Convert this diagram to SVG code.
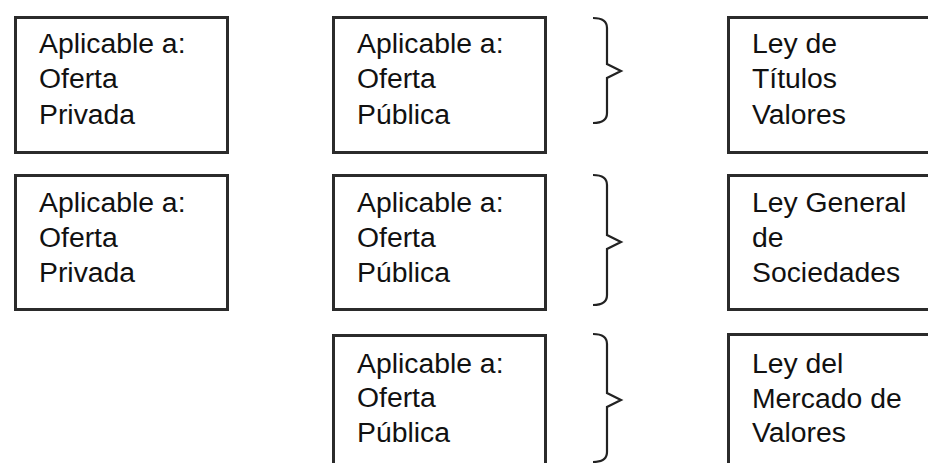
<svg xmlns="http://www.w3.org/2000/svg" width="928" height="463" viewBox="0 0 928 463">
<style>
.box{fill:#fff;stroke:#2b2b2b;stroke-width:3}
.t{font-family:"Liberation Sans",Arial,sans-serif;font-size:27px;fill:#111}
.br{fill:none;stroke:#222;stroke-width:2.2;stroke-linejoin:miter}
</style>
<rect width="928" height="463" fill="#fff"/>
<g id="n1"><rect class="box" x="15.5" y="17.5" width="212" height="135"/>
<text class="t" transform="translate(39,0) scale(1.05,1)"><tspan x="0" y="53">Aplicable a:</tspan><tspan x="0" y="88">Oferta</tspan><tspan x="0" y="124">Privada</tspan></text></g>
<g id="n2"><rect class="box" x="15.5" y="175.5" width="212" height="134"/>
<text class="t" transform="translate(39,0) scale(1.05,1)"><tspan x="0" y="212">Aplicable a:</tspan><tspan x="0" y="247">Oferta</tspan><tspan x="0" y="282">Privada</tspan></text></g>
<g id="n3"><rect class="box" x="333.5" y="17.5" width="212" height="135"/>
<text class="t" transform="translate(357,0) scale(1.05,1)"><tspan x="0" y="53">Aplicable a:</tspan><tspan x="0" y="88">Oferta</tspan><tspan x="0" y="124">Pública</tspan></text></g>
<g id="n4"><rect class="box" x="333.5" y="175.5" width="212" height="134"/>
<text class="t" transform="translate(357,0) scale(1.05,1)"><tspan x="0" y="212">Aplicable a:</tspan><tspan x="0" y="247">Oferta</tspan><tspan x="0" y="282">Pública</tspan></text></g>
<g id="n5"><rect class="box" x="333.5" y="335.5" width="212" height="150"/>
<text class="t" transform="translate(357,0) scale(1.05,1)"><tspan x="0" y="373">Aplicable a:</tspan><tspan x="0" y="407">Oferta</tspan><tspan x="0" y="442">Pública</tspan></text></g>
<g id="n6"><rect class="box" x="728.5" y="17.5" width="220" height="135"/>
<text class="t" transform="translate(752,0) scale(1.05,1)"><tspan x="0" y="53">Ley de</tspan><tspan x="0" y="88">Títulos</tspan><tspan x="0" y="124">Valores</tspan></text></g>
<g id="n7"><rect class="box" x="728.5" y="175.5" width="220" height="134"/>
<text class="t" transform="translate(752,0) scale(1.05,1)"><tspan x="0" y="212">Ley General</tspan><tspan x="0" y="247">de</tspan><tspan x="0" y="282">Sociedades</tspan></text></g>
<g id="n8"><rect class="box" x="728.5" y="334.5" width="220" height="150"/>
<text class="t" transform="translate(752,0) scale(1.05,1)"><tspan x="0" y="373">Ley del</tspan><tspan x="0" y="408">Mercado de</tspan><tspan x="0" y="442">Valores</tspan></text></g>
<g id="connectors">
<path class="br" d="M593,18 Q607,18 607,28 L607,64 L621,71 L607,78 L607,113 Q607,123 593,123"/>
<path class="br" d="M593,175 Q607,175 607,185 L607,235 L621,242 L607,249 L607,295 Q607,305 593,305"/>
<path class="br" d="M593,334 Q607,334 607,344 L607,393 L621,400 L607,407 L607,452 Q607,462 593,462"/>
</g>
</svg>
